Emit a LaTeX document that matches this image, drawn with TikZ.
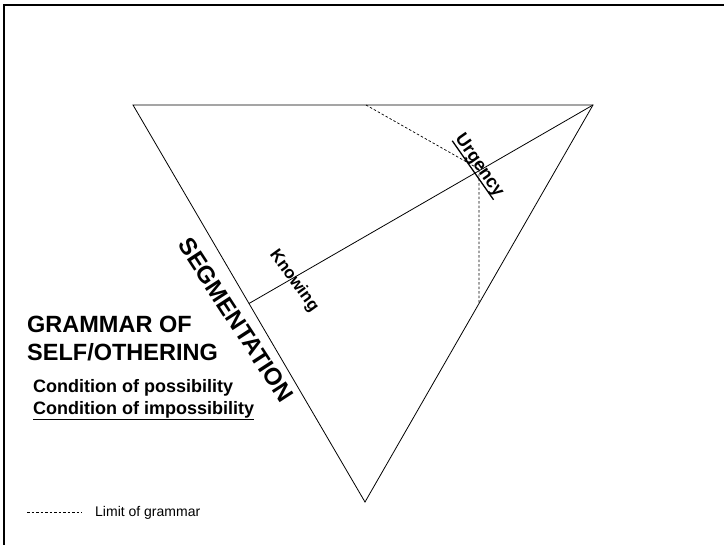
\documentclass[tikz,border=0pt]{standalone}
\usepackage{fontspec}
\setmainfont{Liberation Sans}
\newcommand\thickul[2]{\setbox0\hbox{#2}\rlap{\rule[#1]{\wd0}{1.3pt}}\box0}
\begin{document}
\begin{tikzpicture}[x=1pt,y=-1pt,
  edge/.style={line width=0.8pt},
  lim/.style={line width=0.7pt, dash pattern=on 2.5pt off 2pt},
  lbl/.style={inner sep=0pt, anchor=base west}]
\useasboundingbox (0,0) rectangle (724,545);
\begin{scope}
\clip (0,0) rectangle (724,545);
\draw[line width=2pt] (4,5) rectangle (760,580);
\end{scope}
\coordinate (A) at (133,105);
\coordinate (B) at (593,105);
\coordinate (C) at (365,502);
\coordinate (M) at (249,303.5);
\coordinate (D) at (366,105);
\coordinate (P) at (479,169);
\coordinate (E) at (479,304);
\draw[edge] (A) -- (B) -- (C) -- cycle;
\draw[edge] (B) -- (M);
\draw[lim] (D) -- (P) -- (E);
\node[inner sep=0pt, rotate=-55, font=\fontsize{18}{21}\selectfont\bfseries] (urg) at (479,166) {\thickul{-3.8pt}{Urgency}};
\node[inner sep=0pt, rotate=-54, font=\fontsize{17}{20}\selectfont\bfseries] (know) at (294,281) {Knowing};
\node[inner sep=0pt, rotate=-57, font=\fontsize{24}{28}\selectfont\bfseries] (seg) at (236,320) {SEGMENTATION};
\node[lbl, font=\fontsize{23.5}{28}\selectfont\bfseries] (g1) at (27,333) {GRAMMAR OF};
\node[lbl, font=\fontsize{23.5}{28}\selectfont\bfseries] (g2) at (27,361) {SELF/OTHERING};
\node[lbl, font=\fontsize{18}{21}\selectfont\bfseries] (c1) at (33,393) {Condition of possibility};
\node[lbl, font=\fontsize{18}{21}\selectfont\bfseries] (c2) at (33,415) {\thickul{-5.5pt}{Condition of impossibility}};
\coordinate (l1) at (27,512);
\coordinate (l2) at (82,512);
\draw[lim] (l1) -- (l2);
\node[lbl, font=\fontsize{14}{16}\selectfont] (lim) at (95,516.5) {Limit of grammar};
\end{tikzpicture}
\end{document}
